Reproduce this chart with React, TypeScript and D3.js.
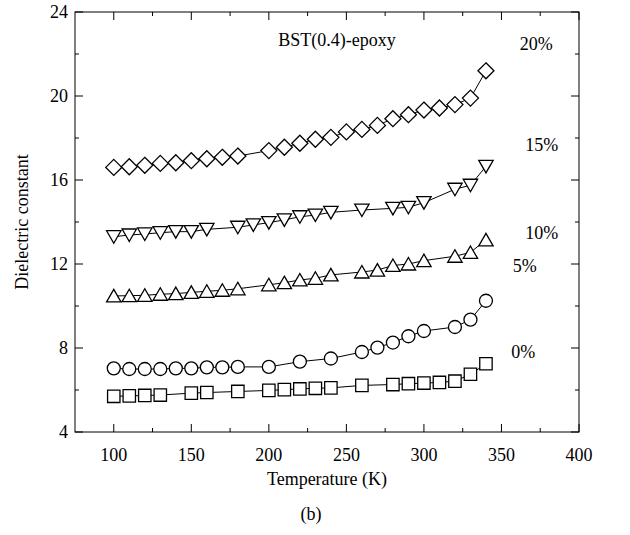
import React from 'react';
import * as d3 from 'd3';

// Temperature (K) of each measurement column
const temperatures = [100, 110, 120, 130, 140, 150, 160, 170, 180, 190, 200, 210, 220, 230, 240, 250, 260, 270, 280, 290, 300, 310, 320, 330, 340];

// Dielectric constant per series (null = no point at that temperature)
const values20 = [16.60, 16.63, 16.70, 16.79, 16.82, 16.92, 17.01, 17.08, 17.14, null, 17.40, 17.56, 17.75, 17.94, 18.03, 18.29, 18.41, 18.60, 18.92, 19.11, 19.33, 19.43, 19.59, 19.90, 21.20];
const values15 = [13.30, 13.38, 13.43, 13.49, 13.54, 13.54, 13.65, null, 13.75, 13.86, 13.97, 14.10, 14.25, 14.33, 14.46, null, 14.57, null, 14.65, 14.70, 14.92, null, 15.56, 15.75, 16.65];
const values10 = [10.48, 10.49, 10.51, 10.56, 10.59, 10.65, 10.70, 10.75, 10.82, null, 11.01, 11.11, 11.24, 11.32, 11.48, null, 11.62, 11.71, 11.93, 12.00, 12.16, null, 12.37, 12.55, 13.15];
const values5 = [7.03, 7.00, 7.00, 7.00, 7.03, 7.03, 7.08, 7.08, 7.10, null, 7.10, null, 7.35, null, 7.50, null, 7.81, 8.02, 8.26, 8.56, 8.81, null, 9.00, 9.35, 10.25];
const values0 = [5.70, 5.72, 5.74, 5.76, null, 5.85, 5.88, null, 5.93, null, 5.98, 6.02, 6.05, 6.08, 6.10, null, 6.22, null, 6.26, 6.30, 6.33, 6.36, 6.42, 6.75, 7.25];

const seriesLabels = ['20%', '15%', '10%', '5%', '0%'];
const seriesShapes = ['diamond', 'triangleDown', 'triangleUp', 'circle', 'square'];
const seriesValues = [values20, values15, values10, values5, values0];
// label anchor in data units (temperature, dielectric constant)
const labelTemps = [372.5, 376, 376, 365, 364];
const labelValues = [22.5, 17.65, 13.5, 11.9, 7.8];

const xTicks = [100, 150, 200, 250, 300, 350, 400];
const xMinorTicks = [125, 175, 225, 275, 325, 375];
const yTicks = [4, 8, 12, 16, 20, 24];
const yMinorTicks = [6, 10, 14, 18, 22];

const W = 630, H = 535;
const M = { left: 75, right: 51, top: 12, bottom: 103 };
const FONT = '"Liberation Serif", "Times New Roman", serif';
const FS = 18;

function markerPath(shape: string): string {
  switch (shape) {
    case 'diamond': return 'M0,-8L8,0L0,8L-8,0Z';
    case 'triangleUp': return 'M0,-6.5L7.2,6L-7.2,6Z';
    case 'triangleDown': return 'M-7.2,-6L7.2,-6L0,6.5Z';
    case 'square': return 'M-6.2,-6.2L6.2,-6.2L6.2,6.2L-6.2,6.2Z';
    default: return 'M6.5,0A6.5,6.5 0 1,1 -6.5,0A6.5,6.5 0 1,1 6.5,0Z';
  }
}

export default function App() {
  const x = d3.scaleLinear().domain([75, 400]).range([M.left, W - M.right]);
  const y = d3.scaleLinear().domain([4, 24]).range([H - M.bottom, M.top]);
  const x0 = M.left, x1 = W - M.right, y0 = H - M.bottom, y1 = M.top;
  const major = 8, minor = 4;

  const line = d3.line<[number, number]>().x(d => x(d[0])).y(d => y(d[1]));

  return (
    <svg width={W} height={H} style={{ position: 'absolute', left: 0, top: 0, background: '#fff' }}>
      <rect x={0} y={0} width={W} height={H} fill="#fff" />
      {seriesValues.map((vals, si) => {
        const pts: [number, number][] = [];
        vals.forEach((v, i) => { if (v != null) pts.push([temperatures[i], v as number]); });
        return (
          <g key={si}>
            <path d={line(pts) || ''} fill="none" stroke="#000" strokeWidth={1} />
            {pts.map((p, i) => (
              <path key={i} d={markerPath(seriesShapes[si])} transform={`translate(${x(p[0])},${y(p[1])})`}
                fill="#fff" stroke="#000" strokeWidth={1.3} />
            ))}
            <text x={x(labelTemps[si])} y={y(labelValues[si])} textAnchor="middle" dominantBaseline="central"
              fontFamily={FONT} fontSize={FS} fill="#000">{seriesLabels[si]}</text>
          </g>
        );
      })}
      <rect x={x0} y={y1} width={x1 - x0} height={y0 - y1} fill="none" stroke="#000" strokeWidth={1} />
      {xTicks.map(t => (
        <g key={'xt' + t}>
          <line x1={x(t)} x2={x(t)} y1={y0} y2={y0 - major} stroke="#000" />
          <line x1={x(t)} x2={x(t)} y1={y1} y2={y1 + major} stroke="#000" />
          <text x={x(t)} y={y0 + 23} textAnchor="middle" dominantBaseline="central" fontFamily={FONT} fontSize={FS}>{t}</text>
        </g>
      ))}
      {xMinorTicks.map(t => (
        <g key={'xm' + t}>
          <line x1={x(t)} x2={x(t)} y1={y0} y2={y0 - minor} stroke="#000" />
          <line x1={x(t)} x2={x(t)} y1={y1} y2={y1 + minor} stroke="#000" />
        </g>
      ))}
      {yTicks.map(t => (
        <g key={'yt' + t}>
          <line x1={x0} x2={x0 + major} y1={y(t)} y2={y(t)} stroke="#000" />
          <line x1={x1} x2={x1 - major} y1={y(t)} y2={y(t)} stroke="#000" />
          <text x={x0 - 7} y={y(t)} textAnchor="end" dominantBaseline="central" fontFamily={FONT} fontSize={FS}>{t}</text>
        </g>
      ))}
      {yMinorTicks.map(t => (
        <g key={'ym' + t}>
          <line x1={x0} x2={x0 + minor} y1={y(t)} y2={y(t)} stroke="#000" />
          <line x1={x1} x2={x1 - minor} y1={y(t)} y2={y(t)} stroke="#000" />
        </g>
      ))}
      <text x={x(244)} y={y(22.65)} textAnchor="middle" dominantBaseline="central" fontFamily={FONT} fontSize={FS}>BST(0.4)-epoxy</text>
      <text x={(x0 + x1) / 2} y={479} textAnchor="middle" dominantBaseline="central" fontFamily={FONT} fontSize={FS}>Temperature (K)</text>
      <text transform={`translate(22,${(y0 + y1) / 2}) rotate(-90)`} textAnchor="middle" dominantBaseline="central" fontFamily={FONT} fontSize={FS}>Dielectric constant</text>
      <text x={311} y={514} textAnchor="middle" dominantBaseline="central" fontFamily={FONT} fontSize={FS}>(b)</text>
    </svg>
  );
}
